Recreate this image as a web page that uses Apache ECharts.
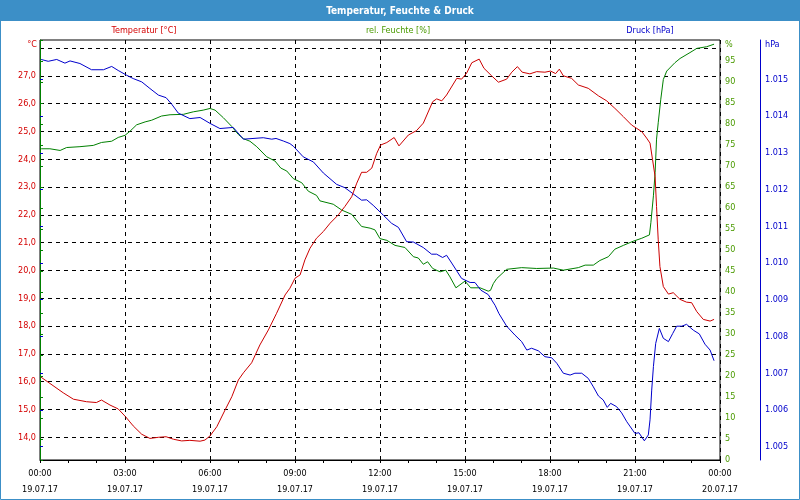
<!DOCTYPE html>
<html><head><meta charset="utf-8">
<script src="https://cdn.jsdelivr.net/npm/echarts@6/dist/echarts.min.js"></script>
<style>html,body{margin:0;padding:0;background:#fff}#c{width:800px;height:500px}</style>
</head><body><div id="c"></div>
<script>
// ---- data (hours since 19.07.17 00:00) ----
const tempHours = [0.04,0.82,1.18,1.64,1.99,2.17,2.47,2.76,3.02,3.29,3.59,3.88,4.18,4.45,4.71,5.0,5.29,5.65,5.82,6.0,6.24,6.53,6.77,7.0,7.18,7.47,7.76,8.06,8.35,8.65,8.82,9.0,9.18,9.35,9.53,9.76,10.0,10.24,10.53,10.76,11.0,11.18,11.35,11.53,11.71,11.88,12.02,12.24,12.5,12.67,13.0,13.29,13.53,13.86,14.0,14.18,14.35,14.71,14.88,15.06,15.24,15.5,15.67,15.94,16.18,16.47,16.65,16.85,17.02,17.29,17.53,17.82,18.02,18.2,18.33,18.47,18.76,19.0,19.35,19.71,20.0,20.29,20.59,20.88,21.06,21.24,21.41,21.53,21.62,21.71,21.76,21.82,21.88,22.0,22.18,22.35,22.59,22.82,23.0,23.18,23.41,23.65,23.79];
const tempValues = [16.16,15.6,15.37,15.28,15.25,15.34,15.16,15.02,14.74,14.41,14.11,13.96,14.0,14.02,13.93,13.87,13.89,13.86,13.9,14.05,14.38,14.98,15.46,16.06,16.32,16.68,17.32,17.86,18.46,19.12,19.36,19.72,19.84,20.38,20.8,21.16,21.4,21.7,22.0,22.3,22.65,23.14,23.53,23.53,23.68,24.2,24.51,24.6,24.78,24.48,24.87,25.03,25.3,26.07,26.17,26.1,26.31,26.91,26.88,27.1,27.47,27.6,27.27,27.0,26.77,26.88,27.13,27.33,27.13,27.07,27.15,27.13,27.17,27.08,27.24,27.0,26.91,26.67,26.55,26.28,26.1,25.83,25.53,25.23,25.11,24.99,24.76,24.58,23.98,23.37,22.3,21.1,20.14,19.42,19.15,19.2,18.96,18.86,18.84,18.52,18.24,18.18,18.24];

const humHours = [0.04,0.35,0.71,0.94,1.41,1.88,2.17,2.53,2.76,3.0,3.18,3.41,3.71,3.94,4.29,4.59,5.06,5.41,5.76,6.0,6.18,6.47,6.77,7.0,7.18,7.41,7.65,8.0,8.29,8.5,8.71,8.94,9.24,9.47,9.76,9.88,10.35,10.65,11.0,11.35,11.65,11.82,12.0,12.24,12.53,12.88,13.18,13.35,13.53,13.68,13.86,14.12,14.32,14.47,14.68,15.0,15.2,15.53,15.82,15.9,16.0,16.12,16.47,17.0,17.53,18.12,18.47,19.0,19.24,19.53,19.76,20.06,20.29,20.59,20.94,21.24,21.51,21.56,21.65,21.71,21.76,21.82,21.91,22.0,22.12,22.41,22.59,22.94,23.18,23.53,23.79];
const humValues = [74.1,74.1,73.7,74.4,74.6,74.9,75.6,75.9,76.8,77.3,78.3,79.8,80.5,80.9,81.9,82.2,82.3,82.9,83.3,83.7,83.3,81.5,79.4,77.5,76.5,75.9,74.6,72.2,71.2,69.5,68.8,67.0,66.0,64.0,63.0,61.7,60.9,59.5,58.5,55.6,55.2,54.8,52.7,52.3,51.1,50.6,48.4,48.1,46.6,47.2,45.6,44.8,45.2,43.6,41.0,42.6,41.0,41.0,40.2,40.4,42.0,43.2,45.4,45.8,45.6,45.7,45.2,45.8,46.4,46.4,47.5,48.4,50.2,51.1,52.1,52.8,53.6,56.5,62.9,68.4,76.4,80.3,85.9,90.6,92.6,94.6,95.6,97.0,98.0,98.4,99.0];

const presHours = [0.04,0.29,0.59,0.88,1.06,1.41,1.82,2.24,2.53,2.76,3.06,3.29,3.59,3.88,4.18,4.45,4.65,4.88,5.29,5.65,6.0,6.35,6.82,7.18,7.88,8.18,8.33,8.59,8.82,8.94,9.29,9.65,10.0,10.47,10.76,11.04,11.35,11.53,11.76,12.12,12.41,12.65,12.94,13.18,13.53,13.82,14.0,14.21,14.35,14.53,14.88,15.18,15.35,15.56,15.82,16.06,16.2,16.47,16.76,17.0,17.18,17.35,17.59,17.82,18.06,18.24,18.47,18.71,18.88,19.12,19.35,19.53,19.71,19.88,20.02,20.14,20.35,20.53,20.71,21.0,21.14,21.24,21.33,21.47,21.53,21.59,21.65,21.73,21.86,22.0,22.18,22.33,22.47,22.65,22.82,23.06,23.27,23.47,23.65,23.79];
const presValues = [1015.54,1015.49,1015.54,1015.44,1015.5,1015.43,1015.26,1015.26,1015.35,1015.24,1015.11,1015.02,1014.93,1014.75,1014.57,1014.5,1014.32,1014.08,1013.93,1013.96,1013.8,1013.66,1013.69,1013.37,1013.41,1013.37,1013.39,1013.32,1013.25,1013.18,1012.89,1012.75,1012.45,1012.14,1012.05,1011.89,1011.71,1011.72,1011.57,1011.3,1011.08,1010.97,1010.58,1010.57,1010.42,1010.24,1010.24,1010.15,1010.21,1010.0,1009.58,1009.47,1009.47,1009.26,1009.14,1008.85,1008.62,1008.28,1008.04,1007.86,1007.63,1007.68,1007.61,1007.45,1007.42,1007.27,1007.0,1006.95,1007.0,1007.0,1006.86,1006.63,1006.38,1006.27,1006.07,1006.18,1006.09,1005.92,1005.68,1005.36,1005.38,1005.26,1005.16,1005.32,1005.73,1006.54,1007.18,1007.81,1008.22,1007.95,1007.86,1008.08,1008.28,1008.28,1008.33,1008.17,1008.07,1007.79,1007.63,1007.34];

const timeTickHours = [0,3,6,9,12,15,18,21,24];
const timeTickLabels = ['00:00\n19.07.17','03:00\n19.07.17','06:00\n19.07.17','09:00\n19.07.17','12:00\n19.07.17','15:00\n19.07.17','18:00\n19.07.17','21:00\n19.07.17','00:00\n20.07.17'];

const titleText = 'Temperatur, Feuchte & Druck';
const seriesNames = ['Temperatur [°C]', 'rel. Feuchte [%]', 'Druck [hPa]'];

// ---- chart ----
const FONT = "'DejaVu Sans Condensed', 'DejaVu Sans', sans-serif";
const FS = 9;
const RED = '#cc0000', GREEN = '#008000', BLUE = '#0000cc';
const RED_T = '#d40000', GREEN_T = '#4a9a00', BLUE_T = '#0000cc';
const BAR = '#3c8fc7';

const zip = (a, b) => a.map((h, i) => [h, b[i]]);
const L = 40, R = 80;

const chart = echarts.init(document.getElementById('c'), null, {renderer: 'canvas'});
const hiddenX = (gi) => ({type:'value', gridIndex: gi, min:0, max:24, show:false});

chart.setOption({
  animation: false,
  backgroundColor: '#ffffff',
  grid: [
    {left: L, right: R, top: 40, bottom: 40, show: true, borderColor: '#000', borderWidth: 1, backgroundColor: 'transparent'},
    {left: L, right: R, top: 48, bottom: 62.7},
    {left: L, right: R, top: 79.3, bottom: 53.3}
  ],
  xAxis: [
    {type:'value', gridIndex:0, min:0, max:24, interval:3,
      axisLine:{show:true, lineStyle:{color:'#000', width:1}},
      axisTick:{show:true, length:3, lineStyle:{color:'#000'}},
      minorTick:{show:true, splitNumber:3, length:3, lineStyle:{color:'#000'}},
      splitLine:{show:true, lineStyle:{color:'#000', type:[4,4], width:1}},
      axisLabel:{color:'#000', fontFamily:FONT, fontSize:FS, lineHeight:15.5, margin:6,
        formatter: v => { const i = timeTickHours.indexOf(v); return i >= 0 ? timeTickLabels[i] : ''; }}
    },
    hiddenX(1), hiddenX(2)
  ],
  yAxis: [
    // humidity (right, green)
    {type:'value', gridIndex:0, position:'right', min:0, max:100, interval:5,
      axisLine:{show:true, lineStyle:{color:GREEN, width:1}},
      axisTick:{show:true, length:3, lineStyle:{color:GREEN}},
      splitLine:{show:false},
      axisLabel:{color:GREEN_T, fontFamily:FONT, fontSize:FS, margin:5, formatter: v => v === 100 ? '' : String(v)}
    },
    // pressure axis line (full height)
    {type:'value', gridIndex:0, position:'right', offset:40, min:0, max:1,
      axisLine:{show:true, lineStyle:{color:BLUE, width:1}},
      axisTick:{show:false}, axisLabel:{show:false}, splitLine:{show:false}
    },
    // temperature (left, red)
    {type:'value', gridIndex:1, position:'left', min:14, max:28, interval:1,
      axisLine:{show:false}, axisTick:{show:false},
      splitLine:{show:true, lineStyle:{color:'#000', type:[4,4], width:1}},
      axisLabel:{color:RED_T, fontFamily:FONT, fontSize:FS, margin:4,
        formatter: v => v >= 28 ? '' : v.toFixed(1).replace('.', ',')}
    },
    // pressure ticks/labels
    {type:'value', gridIndex:2, position:'right', offset:40, min:1005, max:1015, interval:1,
      axisLine:{show:false},
      axisTick:{show:true, length:3, lineStyle:{color:BLUE}},
      splitLine:{show:false},
      axisLabel:{color:BLUE_T, fontFamily:FONT, fontSize:FS, margin:5,
        formatter: v => (v/1000).toFixed(3)}
    }
  ],
  series: [
    {name: seriesNames[1], type:'line', xAxisIndex:0, yAxisIndex:0, data: zip(humHours, humValues),
      showSymbol:false, symbol:'none', clip:false, lineStyle:{color:GREEN, width:1}, z:3},
    {name: seriesNames[2], type:'line', xAxisIndex:2, yAxisIndex:3, data: zip(presHours, presValues),
      showSymbol:false, symbol:'none', clip:false, lineStyle:{color:BLUE, width:1}, z:3},
    {name: seriesNames[0], type:'line', xAxisIndex:1, yAxisIndex:2, data: zip(tempHours, tempValues),
      showSymbol:false, symbol:'none', clip:false, lineStyle:{color:RED, width:1}, z:4}
  ],
  graphic: [
    {type:'rect', shape:{x:0, y:0, width:800, height:21}, style:{fill:BAR}, z:10},
    {type:'rect', shape:{x:0.5, y:0.5, width:799, height:499}, style:{fill:null, stroke:BAR, lineWidth:1}, z:10},
    {type:'text', x:400, y:11, z:11, style:{text:titleText, fill:'#fff', font:'bold 10px ' + FONT, textAlign:'center', textVerticalAlign:'middle'}},
    {type:'text', x:144, y:31, z:11, style:{text:seriesNames[0], fill:RED_T, font:FS + 'px ' + FONT, textAlign:'center', textVerticalAlign:'middle'}},
    {type:'text', x:398, y:31, z:11, style:{text:seriesNames[1], fill:GREEN_T, font:FS + 'px ' + FONT, textAlign:'center', textVerticalAlign:'middle'}},
    {type:'text', x:650, y:31, z:11, style:{text:seriesNames[2], fill:BLUE_T, font:FS + 'px ' + FONT, textAlign:'center', textVerticalAlign:'middle'}},
    {type:'text', x:37, y:45, z:11, style:{text:'°C', fill:RED_T, font:FS + 'px ' + FONT, textAlign:'right', textVerticalAlign:'middle'}},
    {type:'text', x:725, y:45, z:11, style:{text:'%', fill:GREEN_T, font:FS + 'px ' + FONT, textAlign:'left', textVerticalAlign:'middle'}},
    {type:'text', x:765, y:45, z:11, style:{text:'hPa', fill:BLUE_T, font:FS + 'px ' + FONT, textAlign:'left', textVerticalAlign:'middle'}}
  ]
});
</script>
</body></html>
